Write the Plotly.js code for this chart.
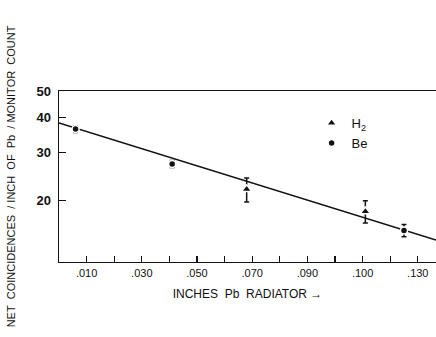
<!DOCTYPE html>
<html>
<head>
<meta charset="utf-8">
<script src="https://cdn.plot.ly/plotly-3.0.1.min.js"></script>
<style>html,body{margin:0;padding:0;background:#fff;}#chart{width:436px;height:337px;}</style>
</head>
<body>
<div id="chart"></div>
<script>
// Data
var h2X = [0.068, 0.111];
var h2Y = [22.0, 18.3];
var h2Err = [2.2, 1.7];
var beX = [0.006, 0.041, 0.125];
var beY = [36.4, 27.2, 15.6];
var beErr = [1.0, 0.8, 0.8];
var fitX = [0.0, 0.1366];
var fitY = [38.3, 14.4];
var xTickVals = [0.01,0.02,0.03,0.04,0.05,0.06,0.07,0.08,0.09,0.10,0.11,0.12,0.13];
var xTickText = [".010","",".030","",".050","",".070","",".090","",".100","",".130"];
var yTickVals = [20, 30, 40, 50];
var yTickText = ["20", "30", "40", "50"];

var fontFam = "Liberation Sans, Arial, sans-serif";
var traces = [
  {x: fitX, y: fitY, mode: 'lines', line: {color: '#111', width: 1.5}, showlegend: false, hoverinfo: 'skip'},
  {x: h2X, y: h2Y, mode: 'markers', name: 'H<sub>2</sub>',
   marker: {symbol: 'triangle-up', size: 9, color: '#111', line: {color: '#fff', width: 1.5}},
   error_y: {type: 'data', array: h2Err, visible: true, color: '#111', thickness: 1.5, width: 2.5}},
  {x: beX, y: beY, mode: 'markers', name: 'Be',
   marker: {symbol: 'circle', size: 7, color: '#111', line: {color: '#fff', width: 1.5}},
   error_y: {type: 'data', array: beErr, visible: true, color: '#111', thickness: 1.5, width: 2.5}}
];
var layout = {
  width: 436, height: 337,
  margin: {l: 59, r: 0, t: 91, b: 75},
  paper_bgcolor: '#fff', plot_bgcolor: '#fff',
  font: {family: fontFam, color: '#111'},
  showlegend: true,
  legend: {x: 0.67, y: 0.9, xanchor: 'left', yanchor: 'top', bgcolor: 'rgba(0,0,0,0)',
           font: {size: 13, family: fontFam, color: '#111'}, itemwidth: 30, tracegroupgap: 2},
  xaxis: {
    range: [0, 0.1366], showgrid: false, zeroline: false,
    showline: true, linecolor: '#111', linewidth: 1.4, mirror: true,
    ticks: 'inside', ticklen: 6, tickcolor: '#111', tickwidth: 1.3,
    tickmode: 'array', tickvals: xTickVals, ticktext: xTickText,
    tickfont: {size: 11, family: fontFam, color: '#111'},
    title: {text: 'INCHES\u00a0 Pb\u00a0 RADIATOR \u2192', font: {size: 12, family: fontFam, color: '#111'}, standoff: 12}
  },
  yaxis: {
    type: 'log', range: [Math.log10(12), Math.log10(50)], showgrid: false, zeroline: false,
    showline: true, linecolor: '#111', linewidth: 1.4,
    ticks: 'inside', ticklen: 7, tickcolor: '#111', tickwidth: 1.3,
    tickmode: 'array', tickvals: yTickVals, ticktext: yTickText,
    ticklabelstandoff: 4,
    tickfont: {size: 13, family: fontFam, color: '#111', weight: 'bold'},
    title: {text: 'NET\u00a0 COINCIDENCES\u00a0 /\u00a0INCH\u00a0 OF\u00a0 Pb\u00a0 /\u00a0MONITOR\u00a0 COUNT',
            font: {size: 11, family: fontFam, color: '#111'}, standoff: 18}
  }
};
Plotly.newPlot('chart', traces, layout, {staticPlot: true});
</script>
</body>
</html>
